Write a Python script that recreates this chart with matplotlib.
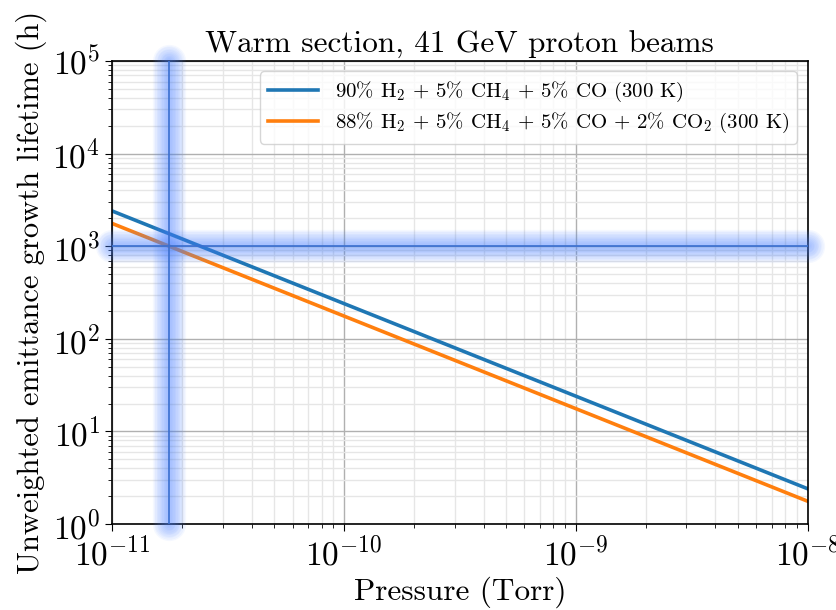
import numpy as np
import matplotlib
matplotlib.use("Agg")
import matplotlib.pyplot as plt

plt.rcParams['font.family'] = 'serif'
plt.rcParams['font.serif'] = ['cmr10']
plt.rcParams['mathtext.fontset'] = 'cm'
plt.rcParams['axes.formatter.use_mathtext'] = True

# values (log-log, straight lines)
pressure = [1e-11, 1e-10, 1e-9, 1e-8]
lifetime_mix1 = [2400, 240, 24, 2.4]
lifetime_mix2 = [1760, 176, 17.6, 1.76]
labels = [r"90% H$_2$ + 5% CH$_4$ + 5% CO (300 K)",
          r"88% H$_2$ + 5% CH$_4$ + 5% CO + 2% CO$_2$ (300 K)"]
target_lifetime = 1000      # h, horizontal marker
target_pressure = 1.76e-11  # Torr, vertical marker

fig, ax = plt.subplots(figsize=(8.37, 6.10), dpi=100)
fig.subplots_adjust(left=0.134, right=0.965, bottom=0.141, top=0.9)

ax.plot(pressure, lifetime_mix1, color='#1f77b4', lw=2.6, label=labels[0])
ax.plot(pressure, lifetime_mix2, color='#ff7f0e', lw=2.6, label=labels[1])

ax.set_xscale('log')
ax.set_yscale('log')
ax.set_xlim(1e-11, 1e-8)
ax.set_ylim(1, 1e5)

# glowing marker lines
glow = '#4a82ff'
for lw in np.arange(4, 26, 2):
    ax.axhline(target_lifetime, color=glow, lw=lw, alpha=0.055,
               solid_capstyle='round', clip_on=False, zorder=4)
    ax.axvline(target_pressure, color=glow, lw=lw, alpha=0.055,
               solid_capstyle='round', clip_on=False, zorder=4)
ax.axhline(target_lifetime, color='#3a6fd0', lw=1.2, zorder=5)
ax.axvline(target_pressure, color='#3a6fd0', lw=1.2, zorder=5)

ax.grid(True, which='major', color='#b0b0b0', lw=1.0)
ax.grid(True, which='minor', color='#e6e6e6', lw=1.0)
ax.set_axisbelow(True)

ax.tick_params(which='major', labelsize=24, length=5)
ax.tick_params(which='minor', length=3)
for s in ax.spines.values():
    s.set_linewidth(1.2)

ax.set_xlabel("Pressure (Torr)", fontsize=22.5)
ax.set_ylabel("Unweighted emittance growth lifetime (h)", fontsize=22)
ax.set_title("Warm section, 41 GeV proton beams", fontsize=22.5)

ax.legend(loc='upper right', fontsize=15, handlelength=2.4, labelspacing=0.35)

fig.savefig("out.png", dpi=100)
